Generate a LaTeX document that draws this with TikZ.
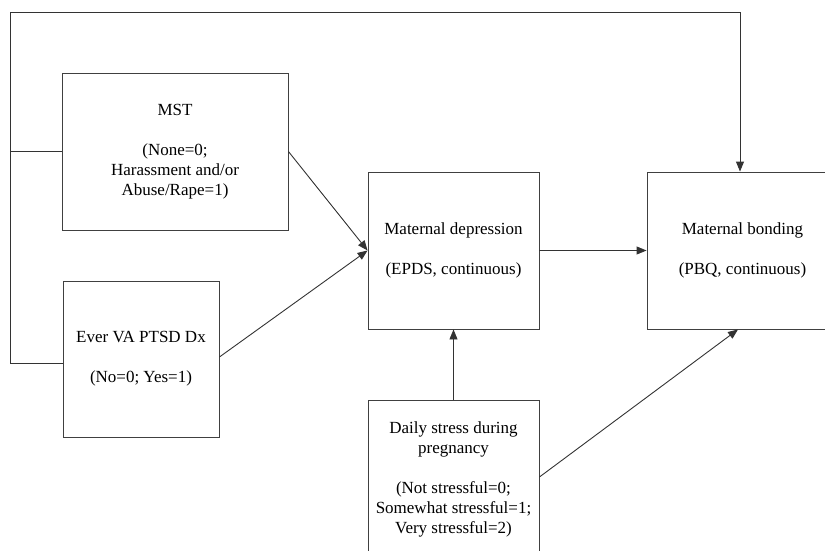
\documentclass[tikz,border=0pt]{standalone}
\usepackage{fontspec}
\setmainfont{Liberation Serif}
\usetikzlibrary{arrows.meta, positioning}

\begin{document}
\begin{tikzpicture}[x=1pt, y=-1pt, >={Triangle[length=10pt,width=8pt]}, line width=0.9pt,
      blk/.style={draw=black!75, align=center, inner sep=0pt,
                  font=\rmfamily\fontsize{17}{20}\selectfont},
      lnk/.style={draw=black!80}]

    \useasboundingbox (0,0) rectangle (825,551);
    \clip (0,0) rectangle (825,551);

    % === exposures ===
    \node[blk, minimum width=226pt, minimum height=157pt] (mst) at (175,151.5)
        {MST\\[20pt](None=0;\\Harassment and/or\\Abuse/Rape=1)};
    \node[blk, minimum width=156pt, minimum height=156pt] (ptsd) at (141,359)
        {Ever VA PTSD Dx\\[20pt](No=0; Yes=1)};

    % === mediator and outcome ===
    \node[blk, minimum width=171pt, minimum height=157pt] (dep) at (453.5,250.5)
        {Maternal depression\\[20pt](EPDS, continuous)};
    \node[blk, minimum width=191pt, minimum height=157pt] (bond) at (742.5,250.5)
        {Maternal bonding\\[20pt](PBQ, continuous)};

    % === stress ===
    \node[blk, minimum width=171pt, minimum height=159pt] (stress) at (453.5,479.5)
        {Daily stress during\\pregnancy\\[20pt](Not stressful=0;\\Somewhat stressful=1;\\Very stressful=2)};

    % === paths ===
    \coordinate (corner) at (10,12);
    \draw[lnk, ->] ([yshift=-4pt]ptsd.west) -| (corner) -| ([xshift=-2.5pt]bond.north);
    \draw[lnk] (mst.west) -- (mst.west -| corner);
    \draw[lnk, ->] (mst.east) -- (dep.west);
    \draw[lnk, ->] ([yshift=2pt]ptsd.east) -- (dep.west);
    \draw[lnk, ->] (dep.east) -- (bond.west);
    \draw[lnk, ->] (stress.north) -- (dep.south);
    \draw[lnk, ->] ([yshift=2.5pt]stress.east) -- ([xshift=-4.5pt]bond.south);

\end{tikzpicture}
\end{document}
